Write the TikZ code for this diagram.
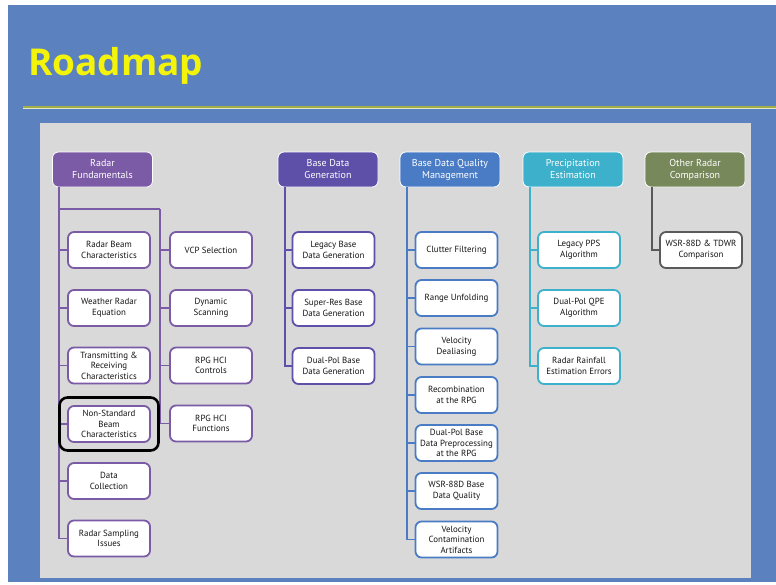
\documentclass[tikz,border=0pt]{standalone}
\usepackage{fontspec}
\setmainfont{PT Sans}
\newfontfamily\titlefont{Open Sans}
\definecolor{bgblue}{HTML}{5B82BE}
\definecolor{panel}{HTML}{D9D9D9}
\definecolor{cfund}{HTML}{7B5AA6}
\definecolor{cgen}{HTML}{5E4FA8}
\definecolor{cqual}{HTML}{4A7CC6}
\definecolor{cprec}{HTML}{3DB0CB}
\definecolor{cother}{HTML}{77885A}
\definecolor{cothln}{HTML}{5A5A5A}
\definecolor{titley}{HTML}{F4F40A}
\definecolor{ruleol}{HTML}{A3AE48}
\definecolor{txt}{HTML}{151515}
\tikzset{
  hdr/.style={draw=white, line width=0.8pt, rounded corners=6pt, minimum width=100pt, minimum height=35pt,
    inner sep=1pt, align=center, text=white, font=\fontsize{10}{12}\selectfont},
  kid/.style={draw, fill=white, line width=1.8pt, rounded corners=6pt, minimum width=82pt, minimum height=36pt,
    inner sep=1pt, align=center, text=txt, font=\fontsize{8.9}{10.6}\selectfont},
  ln/.style={line width=1.8pt},
}
\begin{document}
\begin{tikzpicture}[x=1pt,y=-1pt]
\useasboundingbox (0,0) rectangle (776,584);
\fill[white] (0,0) rectangle (776,584);
\fill[bgblue] (8,5) rectangle (776,582);
\node[anchor=base west, inner sep=0pt, text=titley, font=\titlefont\bfseries\fontsize{37}{40}\selectfont] (title) at (28,75) {Roadmap};
\draw[ruleol, line width=1.4pt] (23,107) -- (776,107);
\draw[white!70!ruleol, line width=0.6pt] (23,108.4) -- (776,108.4);
\fill[panel] (40,123) rectangle (751,578);

% headers
\node[hdr, fill=cfund] (h1) at (102.5,169.5) {Radar\\Fundamentals};
\node[hdr, fill=cgen] (h2) at (328,169.5) {Base Data\\Generation};
\node[hdr, fill=cqual] (h3) at (450,169.5) {Base Data Quality\\Management};
\node[hdr, fill=cprec] (h4) at (573,169.5) {Precipitation\\Estimation};
\node[hdr, fill=cother] (h5) at (695,169.5) {Other Radar\\Comparison};

% trunk start coordinates
\coordinate (t1) at ([xshift=7pt]h1.south west);
\coordinate (t2) at ([xshift=7pt]h2.south west);
\coordinate (t3) at ([xshift=7pt]h3.south west);
\coordinate (t4) at ([xshift=7pt]h4.south west);
\coordinate (t5) at ([xshift=7pt]h5.south west);

% column 1
\begin{scope}[every node/.append style={kid, draw=cfund}]
\node (a1) at (109,250) {Radar Beam\\Characteristics};
\node (a2) at (109,308) {Weather Radar\\Equation};
\node (a3) at (109,365.5) {Transmitting \&\\Receiving\\Characteristics};
\node (a4) at (109,424) {Non-Standard\\Beam\\Characteristics};
\node (a5) at (109,481) {Data\\Collection};
\node (a6) at (109,538.5) {Radar Sampling\\Issues};
\node (b1) at (211,250) {VCP Selection};
\node (b2) at (211,308) {Dynamic\\Scanning};
\node (b3) at (211,365.5) {RPG HCI\\Controls};
\node (b4) at (211,423.5) {RPG HCI\\Functions};
\end{scope}
\coordinate (j0) at (t1 |- 0,209);
\coordinate (j1) at (160,209);
\begin{scope}[cfund, ln]
\foreach \n in {a1,a2,a3,a4,a5,a6} \draw (t1) |- (\n.west);
\draw (j0) -- (j1);
\foreach \n in {b1,b2,b3,b4} \draw (j1) |- (\n.west);
\end{scope}
\node[draw=black, line width=2.6pt, rounded corners=8pt, minimum width=99pt, minimum height=53pt, inner sep=0pt] (hl) at (a4) {};

% column 2
\begin{scope}[every node/.append style={kid, draw=cgen}]
\node (c1) at (333.5,250) {Legacy Base\\Data Generation};
\node (c2) at (333.5,308) {Super-Res Base\\Data Generation};
\node (c3) at (333.5,366) {Dual-Pol Base\\Data Generation};
\end{scope}
\foreach \n in {c1,c2,c3} \draw[cgen, ln] (t2) |- (\n.west);

% column 3
\begin{scope}[every node/.append style={kid, draw=cqual}]
\node (d1) at (456.5,250) {Clutter Filtering};
\node (d2) at (456.5,298) {Range Unfolding};
\node (d3) at (456.5,346.5) {Velocity\\Dealiasing};
\node (d4) at (456.5,395) {Recombination\\at the RPG};
\node (d5) at (456.5,443) {Dual-Pol Base\\Data Preprocessing\\at the RPG};
\node (d6) at (456.5,491) {WSR-88D Base\\Data Quality};
\node (d7) at (456.5,539.5) {Velocity\\Contamination\\Artifacts};
\end{scope}
\foreach \n in {d1,d2,d3,d4,d5,d6,d7} \draw[cqual, ln] (t3) |- (\n.west);

% column 4
\begin{scope}[every node/.append style={kid, draw=cprec}]
\node (e1) at (579,250) {Legacy PPS\\Algorithm};
\node (e2) at (579,308) {Dual-Pol QPE\\Algorithm};
\node (e3) at (579,366) {Radar Rainfall\\Estimation Errors};
\end{scope}
\foreach \n in {e1,e2,e3} \draw[cprec, ln] (t4) |- (\n.west);

% column 5
\node[kid, draw=cothln] (f1) at (701,250) {WSR-88D \& TDWR\\Comparison};
\draw[cothln, ln] (t5) |- (f1.west);
\end{tikzpicture}
\end{document}
